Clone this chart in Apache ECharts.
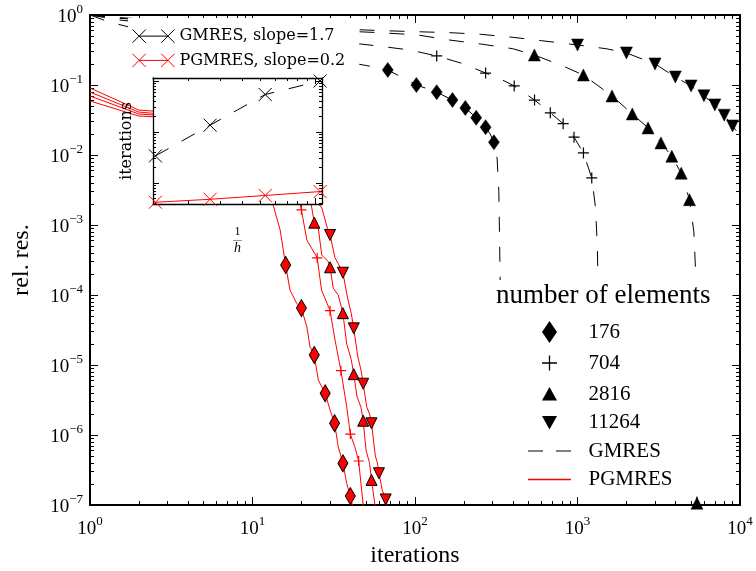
<!DOCTYPE html>
<html><head><meta charset="utf-8">
<script src="https://cdn.jsdelivr.net/npm/echarts@6/dist/echarts.min.js"></script>
<style>html,body{margin:0;padding:0;background:#fff}#c{width:756px;height:571px}</style>
</head><body><div id="c"></div>
<script>
// ---------------- data ----------------
const elementNames = ['176', '704', '2816', '11264'];

// GMRES convergence curves [iteration, relative residual]
const gmres176 = [[1,1],[1.3,0.8],[2,0.62],[3,0.52],[5,0.44],[10,0.36],[20,0.28],[35,0.22],[50,0.19],[68,0.164],[85,0.125],[102,0.1],[120,0.088],[136,0.079],[170,0.061],[204,0.047],[238,0.034],[272,0.025],[290,0.02],[306,0.0152],[320,0.009],[328,0.003],[332,5e-4],[335,1e-4],[338,1e-5],[340,3e-7]];
const gmres704 = [[1,1],[1.5,0.85],[3,0.72],[10,0.55],[30,0.43],[60,0.36],[93,0.316],[136,0.26],[200,0.2],[272,0.148],[340,0.12],[408,0.097],[544,0.061],[680,0.04],[816,0.028],[952,0.018],[1088,0.0107],[1224,0.0047],[1290,0.0018],[1325,5e-4],[1340,1e-4],[1352,1e-5],[1360,3e-7]];
const gmres2816 = [[1,1],[1.5,0.9],[3,0.8],[10,0.68],[30,0.6],[60,0.56],[103,0.52],[162,0.44],[254,0.385],[400,0.33],[543,0.268],[800,0.19],[1087,0.139],[1630,0.0697],[2174,0.0386],[2717,0.0244],[3261,0.0149],[3804,0.0096],[4348,0.0055],[4891,0.0023],[5200,8e-4],[5340,2e-4],[5410,1e-5],[5435,1.06e-7]];
const gmres11264 = [[1,1],[1.5,0.92],[3,0.83],[10,0.72],[30,0.64],[60,0.6],[103,0.577],[162,0.56],[254,0.53],[400,0.48],[600,0.43],[1000,0.373],[1500,0.33],[2000,0.287],[3000,0.2],[4000,0.13],[5000,0.097],[6000,0.07],[7000,0.052],[8000,0.037],[9000,0.026],[10000,0.019]];

// GMRES markers
const gm176 = [[68,0.164],[102,0.1],[136,0.079],[170,0.061],[204,0.047],[238,0.034],[272,0.025],[306,0.0152]];
const gm704 = [[136,0.26],[272,0.148],[408,0.097],[544,0.061],[680,0.04],[816,0.028],[952,0.018],[1088,0.0107],[1224,0.0047]];
const gm2816 = [[543,0.268],[1087,0.139],[1630,0.0697],[2174,0.0386],[2717,0.0244],[3261,0.0149],[3804,0.0096],[4348,0.0055],[4891,0.0023],[5435,1.06e-7]];
const gm11264 = [[1000,0.373],[2000,0.287],[3000,0.2],[4000,0.13],[5000,0.097],[6000,0.07],[7000,0.052],[8000,0.037],[9000,0.026]];

// PGMRES convergence curves
const pgmres176 = [[1,0.0907],[2,0.0438],[2.6,0.042],[13.3,2.04e-3],[14.8,8.5e-4],[16,2.68e-4],[17,1.18e-4],[18.7,7.6e-5],[20,6.5e-5],[21.6,3.5e-5],[22.6,1.82e-5],[24,1.39e-5],[25.4,6.1e-6],[28,3.94e-6],[30,2.28e-6],[32,1.47e-6],[33.7,6.8e-7],[36,3.94e-7],[38,2.04e-7],[40,1.34e-7],[42,8e-8]];
const pgmres704 = [[1,0.0794],[2,0.041],[2.6,0.039],[19.6,2.04e-3],[20,1.64e-3],[21.6,6.1e-4],[25,3.4e-4],[26.6,1.18e-4],[30,5.97e-5],[32.2,2.28e-5],[35,8.3e-6],[38,2.54e-6],[40,1.03e-6],[42.6,6.8e-7],[45,4.25e-7],[48,1e-7],[49,8e-8]];
const pgmres2816 = [[1,0.0697],[2,0.0385],[2.6,0.037],[22.9,2.04e-3],[24,1.08e-3],[25.4,9e-4],[26.7,3.7e-4],[29.3,3e-4],[30,2.49e-4],[31.4,1.25e-4],[33.7,1e-4],[36,5.5e-5],[38,2e-5],[40.5,1.2e-5],[42,7.4e-6],[44,3.5e-6],[46.5,2.5e-6],[48,1.6e-6],[50,6e-7],[52.5,4e-7],[54,2.28e-7],[56.7,1e-7],[57.5,8e-8]];
const pgmres11264 = [[1,0.0591],[2,0.036],[2.6,0.035],[25.4,2.04e-3],[26.7,1.75e-3],[28.9,9e-4],[30,7.2e-4],[32.2,3.4e-4],[33.7,2.8e-4],[36,2.08e-4],[38.5,9e-5],[40.5,5.5e-5],[42,3.34e-5],[44.5,1.3e-5],[46.5,8.5e-6],[48,5.4e-6],[50.5,2.5e-6],[52.5,2e-6],[54,1.47e-6],[57,5e-7],[58.7,4e-7],[60,2.84e-7],[63,1.6e-7],[66,1.2e-7],[68,9e-8]];

// PGMRES markers
const pm176 = [[16,2.68e-4],[20,6.5e-5],[24,1.39e-5],[28,3.94e-6],[32,1.47e-6],[36,3.94e-7],[40,1.34e-7]];
const pm704 = [[20,1.64e-3],[25,3.4e-4],[30,5.97e-5],[35,8.3e-6],[40,1.03e-6],[45,4.25e-7]];
const pm2816 = [[24,1.08e-3],[30,2.49e-4],[36,5.5e-5],[42,7.4e-6],[48,1.6e-6],[54,2.28e-7]];
const pm11264 = [[30,7.2e-4],[36,2.08e-4],[42,3.34e-5],[48,5.4e-6],[54,1.47e-6],[60,2.84e-7],[66,1.2e-7]];

// inset: iterations vs 1/h
const invH = [13.3, 26.5, 53.1, 106.1];
const itGMRES = [340, 1360, 5435, 10000];
const itPGMRES = [42, 48, 57, 68];

// ticks
const xMajor = [1, 10, 100, 1000, 10000];
const yMajor = [1e-7, 1e-6, 1e-5, 1e-4, 1e-3, 1e-2, 1e-1, 1];
const insetXMajor = [100];
const insetYMajor = [100, 1000, 10000];

// ---------------- helpers ----------------
function minors(decades, lo, hi) {
  const out = [];
  decades.forEach(d => { for (let k = 2; k <= 9; k++) { const v = +(k * d).toPrecision(6); if ((lo === undefined || v >= lo) && (hi === undefined || v <= hi)) out.push(v); } });
  return out;
}
const xMinor = minors([1, 10, 100, 1000]);
const yMinor = minors([1e-7, 1e-6, 1e-5, 1e-4, 1e-3, 1e-2, 1e-1]);
const insetXMinor = minors([10], 13, 108);
const insetYMinor = minors([10, 100, 1000], 39, 11400);

const FONT = 'Liberation Serif';
const FONT2 = 'DejaVu Serif';

function supLabel(v) {
  const e = Math.round(Math.log10(v));
  return '{b|10}{s|' + (e < 0 ? '\u2212' + (-e) : e) + '}';
}
const supRich = {
  b: { fontFamily: FONT, fontSize: 19, color: '#000', lineHeight: 24, verticalAlign: 'bottom' },
  s: { fontFamily: FONT, fontSize: 13, color: '#000', lineHeight: 13, verticalAlign: 'top' }
};

function mkAxis(grid, pos, min, max, ticks, len, lineW, extra) {
  return Object.assign({
    type: 'log', logBase: 10, gridIndex: grid, position: pos, min: min, max: max,
    axisLine: { show: lineW > 0, onZero: false, lineStyle: { color: '#000', width: lineW } },
    axisTick: { show: true, inside: true, length: len, customValues: ticks, lineStyle: { color: '#000', width: 1 } },
    axisLabel: { show: false },
    splitLine: { show: false }, minorTick: { show: false }, minorSplitLine: { show: false },
    z: grid === 1 ? 11 : 0
  }, extra || {});
}

const IXMIN = 12.9, IXMAX = 108.7, IYMIN = 38.8, IYMAX = 11450;

const xAxes = [
  mkAxis(0, 'bottom', 1, 10000, xMajor, 8, 2, {
    axisLabel: { show: true, customValues: xMajor, formatter: supLabel, rich: supRich, margin: 10 },
    name: 'iterations', nameLocation: 'middle', nameGap: 32,
    nameTextStyle: { fontFamily: FONT, fontSize: 24, color: '#000' }
  }),
  mkAxis(0, 'bottom', 1, 10000, xMinor, 4, 0),
  mkAxis(0, 'top', 1, 10000, xMajor, 8, 2),
  mkAxis(0, 'top', 1, 10000, xMinor, 4, 0),
  mkAxis(1, 'bottom', IXMIN, IXMAX, insetXMajor, 6, 1.3, {
    name: '{n|1}\n{l|\u2014}\n{d|h}', nameLocation: 'middle', nameGap: 22,
    nameTextStyle: { rich: {
      n: { fontFamily: FONT, fontSize: 12, color: '#000', lineHeight: 11, align: 'center' },
      l: { fontFamily: FONT, fontSize: 9, color: '#000', lineHeight: 5, align: 'center' },
      d: { fontFamily: FONT, fontSize: 14, fontStyle: 'italic', color: '#000', lineHeight: 13, align: 'center' } } }
  }),
  mkAxis(1, 'bottom', IXMIN, IXMAX, insetXMinor, 3, 0),
  mkAxis(1, 'top', IXMIN, IXMAX, insetXMajor, 6, 1.3),
  mkAxis(1, 'top', IXMIN, IXMAX, insetXMinor, 3, 0)
];
const yAxes = [
  mkAxis(0, 'left', 1e-7, 1, yMajor, 8, 2, {
    axisLabel: { show: true, customValues: yMajor, formatter: supLabel, rich: supRich, margin: 7 },
    name: 'rel. res.', nameLocation: 'middle', nameGap: 56,
    nameTextStyle: { fontFamily: FONT, fontSize: 24, color: '#000' }
  }),
  mkAxis(0, 'left', 1e-7, 1, yMinor, 4, 0),
  mkAxis(0, 'right', 1e-7, 1, yMajor, 8, 2),
  mkAxis(0, 'right', 1e-7, 1, yMinor, 4, 0),
  mkAxis(1, 'left', IYMIN, IYMAX, insetYMajor, 6, 1.3, {
    name: 'iterations', nameLocation: 'middle', nameGap: 18,
    nameTextStyle: { fontFamily: FONT2, fontSize: 16, color: '#000' }
  }),
  mkAxis(1, 'left', IYMIN, IYMAX, insetYMinor, 3, 0),
  mkAxis(1, 'right', IYMIN, IYMAX, insetYMajor, 6, 1.3),
  mkAxis(1, 'right', IYMIN, IYMAX, insetYMinor, 3, 0)
];

// symbols
const SYM = {
  diamond: 'path://M0,-1L1,0L0,1L-1,0Z',
  plus: 'path://M-1,0L1,0M0,-1L0,1',
  up: 'path://M0,-1L1,1L-1,1Z',
  down: 'path://M-1,-1L1,-1L0,1Z',
  x: 'path://M-1,-1L1,1M-1,1L1,-1'
};
const markerSpec = [
  { sym: SYM.diamond, bsize: [11, 15], rsize: [10, 17], stroke: false },
  { sym: SYM.plus, bsize: [11, 11], rsize: [10, 10], stroke: true },
  { sym: SYM.up, bsize: [12, 12], rsize: [11, 11], stroke: false },
  { sym: SYM.down, bsize: [12, 12], rsize: [11, 11], stroke: false }
];

const gmresCurves = [gmres176, gmres704, gmres2816, gmres11264];
const pgmresCurves = [pgmres176, pgmres704, pgmres2816, pgmres11264];
const gmresMarks = [gm176, gm704, gm2816, gm11264];
const pgmresMarks = [pm176, pm704, pm2816, pm11264];

const series = [];
gmresCurves.forEach(d => series.push({
  name: 'GMRES', type: 'line', xAxisIndex: 0, yAxisIndex: 0, data: d,
  symbol: 'none', showSymbol: false, clip: true, z: 2,
  lineStyle: { color: '#000', width: 1, type: [15, 15], opacity: 1 }
}));
pgmresCurves.forEach(d => series.push({
  name: 'PGMRES', type: 'line', xAxisIndex: 0, yAxisIndex: 0, data: d,
  symbol: 'none', showSymbol: false, clip: true, z: 2,
  lineStyle: { color: '#ff0000', width: 1, opacity: 1 }
}));
gmresMarks.forEach((d, i) => {
  const m = markerSpec[i];
  series.push({
    name: elementNames[i], type: 'scatter', xAxisIndex: 0, yAxisIndex: 0, data: d, clip: true, z: 3,
    symbol: m.sym, symbolSize: m.bsize,
    itemStyle: m.stroke ? { color: 'none', borderColor: '#000', borderWidth: 1.2, opacity: 1 } : { color: '#000', borderColor: '#000', borderWidth: 0.5, opacity: 1 }
  });
});
pgmresMarks.forEach((d, i) => {
  const m = markerSpec[i];
  series.push({
    name: 'p' + elementNames[i], type: 'scatter', xAxisIndex: 0, yAxisIndex: 0, data: d, clip: true, z: 3,
    symbol: m.sym, symbolSize: m.rsize,
    itemStyle: m.stroke ? { color: 'none', borderColor: '#ff0000', borderWidth: 1.2, opacity: 1 } : { color: '#ff0000', borderColor: '#000', borderWidth: 1, opacity: 1 }
  });
});
// inset
series.push({
  name: 'GMRES, slope=1.7', type: 'line', xAxisIndex: 4, yAxisIndex: 4, z: 12,
  data: invH.map((h, i) => [h, itGMRES[i]]),
  symbol: SYM.x, symbolSize: 13, showSymbol: true, clip: false,
  itemStyle: { color: 'none', borderColor: '#000', borderWidth: 1, opacity: 1 },
  lineStyle: { color: '#000', width: 1, type: [15, 15] }
});
series.push({
  name: 'PGMRES, slope=0.2', type: 'line', xAxisIndex: 4, yAxisIndex: 4, z: 12,
  data: invH.map((h, i) => [h, itPGMRES[i]]),
  symbol: SYM.x, symbolSize: 13, showSymbol: true, clip: false,
  itemStyle: { color: 'none', borderColor: '#ff0000', borderWidth: 1, opacity: 1 },
  lineStyle: { color: '#ff0000', width: 1 }
});

const ICON = {
  xlx: 'path://M0,0L12,12M0,12L12,0M6,6L32,6M26,0L38,12M26,12L38,0',
  diamond: 'path://M0,-11L7.5,0L0,11L-7.5,0Z',
  plus: 'path://M0,-11M0,11M-7.5,0L7.5,0M0,-7.5L0,7.5',
  up: 'path://M0,-11M0,11M-7.5,6.5L7.5,6.5L0,-7Z',
  down: 'path://M0,-11M0,11M-7.5,-6.5L7.5,-6.5L0,7Z',
  dash: 'path://M21.5,-11M21.5,11M0,-0.6L15,-0.6L15,0.6L0,0.6ZM28,-0.6L43,-0.6L43,0.6L28,0.6Z',
  solid: 'path://M21.5,-11M21.5,11M0,-0.75L43,-0.75L43,0.75L0,0.75Z'
};

const option = {
  animation: false,
  backgroundColor: '#fff',
  title: {
    text: 'number of elements', left: 487, top: 280, padding: [2, 22, 8, 9],
    backgroundColor: '#fff', z: 5,
    textStyle: { fontFamily: FONT, fontSize: 27, fontWeight: 'normal', color: '#000' }
  },
  grid: [
    { left: 90, top: 15, width: 650, height: 490, show: false, containLabel: false, outerBoundsMode: 'none' },
    { left: 153, top: 78, width: 169, height: 126, show: true, backgroundColor: '#fff', borderWidth: 0, z: 10, containLabel: false, outerBoundsMode: 'none' }
  ],
  xAxis: xAxes,
  yAxis: yAxes,
  legend: [
    {
      orient: 'vertical', left: 128, top: 18, padding: [9, 14, 5, 2], align: 'left',
      itemWidth: 42, itemHeight: 14, itemGap: 6, selectedMode: false, backgroundColor: '#fff',
      textStyle: { fontFamily: FONT2, fontSize: 16, color: '#000' },
      data: [
        { name: 'GMRES, slope=1.7', icon: ICON.xlx, itemStyle: { color: 'none', borderColor: '#000', borderWidth: 1, opacity: 1 } },
        { name: 'PGMRES, slope=0.2', icon: ICON.xlx, itemStyle: { color: 'none', borderColor: '#ff0000', borderWidth: 1, opacity: 1 } }
      ]
    },
    {
      orient: 'vertical', left: 487, top: 313, padding: [8, 39, 6, 41], align: 'left',
      itemWidth: 68, itemHeight: 22, itemGap: 6.5, selectedMode: false, backgroundColor: '#fff',
      textStyle: { fontFamily: FONT, fontSize: 21, color: '#000' },
      data: [
        { name: '176', icon: ICON.diamond, itemStyle: { color: '#000', borderWidth: 0, opacity: 1 } },
        { name: '704', icon: ICON.plus, itemStyle: { color: 'none', borderColor: '#000', borderWidth: 1.3, opacity: 1 } },
        { name: '2816', icon: ICON.up, itemStyle: { color: '#000', borderWidth: 0, opacity: 1 } },
        { name: '11264', icon: ICON.down, itemStyle: { color: '#000', borderWidth: 0, opacity: 1 } },
        { name: 'GMRES', icon: ICON.dash, itemStyle: { color: '#000', borderWidth: 0, opacity: 1 } },
        { name: 'PGMRES', icon: ICON.solid, itemStyle: { color: '#ff0000', borderWidth: 0, opacity: 1 } }
      ]
    }
  ],
  series: series
};

const chart = echarts.init(document.getElementById('c'), null, { renderer: 'canvas' });
chart.setOption(option);
</script>
</body></html>
